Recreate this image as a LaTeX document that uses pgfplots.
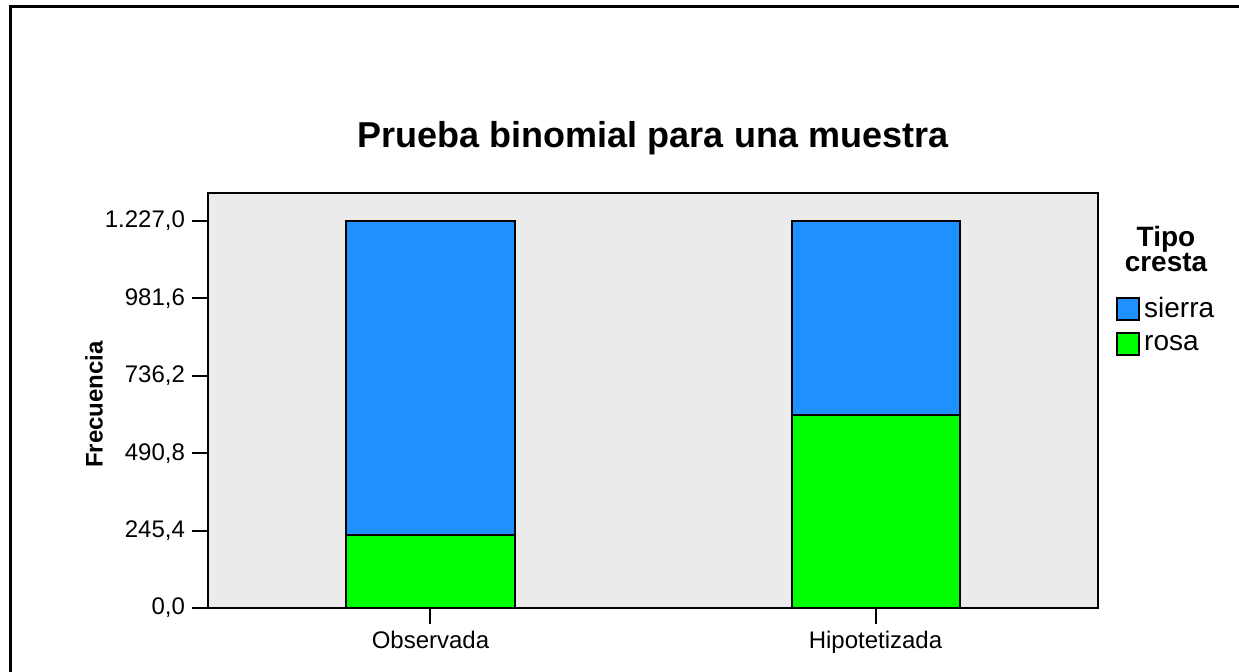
\documentclass[border=0pt]{standalone}
\usepackage{pgfplots}
\pgfplotsset{compat=1.18}
\usepackage{fontspec}
\setmainfont{Liberation Sans}
\definecolor{sierra}{RGB}{30,144,255}
\definecolor{rosa}{RGB}{0,255,0}
\definecolor{bg}{RGB}{235,235,235}
\pgfplotsset{boxlegend/.style={legend image code/.code={\draw[##1,draw=black,line width=1pt] (0pt,-5.5pt) rectangle (11pt,5.5pt);}}}
\begin{document}
\begin{tikzpicture}
\path[use as bounding box] (0,0) rectangle (619.5pt,336pt);
\fill[white] (0,0) rectangle (619.5pt,336pt);
\draw[line width=1.5pt] (5pt,0) -- (5pt,332.75pt) -- (619.5pt,332.75pt);
\node[font=\bfseries\fontsize{18}{20}\selectfont] at (326.5pt,267pt) {Prueba binomial para una muestra};
\node[font=\bfseries\fontsize{14}{12.5}\selectfont, align=center] at (583pt,211.5pt) {Tipo\\cresta};
\begin{axis}[
 at={(104pt,32pt)}, anchor=south west,
 scale only axis, width=445pt, height=207.5pt,
 xmin=-0.5, xmax=1.5, ymin=0, ymax=1316,
 ybar stacked, bar width=84pt,
 axis background/.style={fill=bg},
 axis line style={line width=1pt},
 xtick={0,1}, xticklabels={Observada,Hipotetizada},
 ytick={0,245.4,490.8,736.2,981.6,1227},
 yticklabels={{0,0},{245,4},{490,8},{736,2},{981,6},{1.227,0}},
 tick pos=left, tick align=outside,
 major tick length=8pt,
 tick style={black, line width=1pt},
 ticklabel style={font=\fontsize{12}{14}\selectfont},
 /pgf/number format/assume math mode=true,
 ylabel={Frecuencia},
 ylabel style={at={(axis description cs:-0.128,0.49)}, anchor=center, font=\bfseries\fontsize{12}{14}\selectfont},
 reverse legend,
 legend cell align=left,
 legend style={at={(1.020,0.760)}, anchor=north west, draw=none, fill=none, inner sep=0pt, font=\fontsize{14}{16}\selectfont, row sep=3.5pt},
]
\addplot[fill=rosa, draw=black, line width=1pt, boxlegend] coordinates {(0,231) (1,613.5)};
\addplot[fill=sierra, draw=black, line width=1pt, boxlegend] coordinates {(0,996) (1,613.5)};
\legend{rosa,sierra}
\end{axis}
\end{tikzpicture}
\end{document}
